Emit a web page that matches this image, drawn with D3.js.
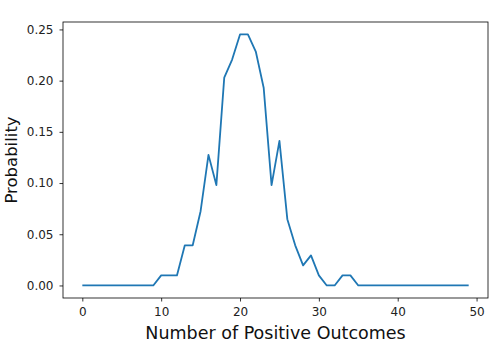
<!DOCTYPE html>
<html>
<head>
<meta charset="utf-8">
<script src="https://cdn.jsdelivr.net/npm/d3@7"></script>
<style>
  body { margin: 0; background: #fff; }
  #chart { width: 500px; height: 352px; }
  text { font-family: "DejaVu Sans", sans-serif; }
</style>
</head>
<body>
<div id="chart"></div>
<script>
// observed frequency for each outcome count 0..49
const outcomes = d3.range(0, 50);
const probs = [
    0, 0, 0, 0, 0, 0, 0, 0, 0, 0,
    0.0098, 0.0098, 0.0098, 0.0392, 0.0392, 0.0725, 0.1275, 0.098, 0.2029, 0.2206,
    0.2451, 0.2451, 0.2284, 0.1931, 0.098, 0.1412, 0.0647, 0.0392, 0.0196, 0.0294,
    0.0098, 0, 0, 0.0098, 0.0098, 0, 0, 0, 0, 0,
    0, 0, 0, 0, 0, 0, 0, 0, 0, 0
];
const xTicks = [0, 10, 20, 30, 40, 50];
const yTicks = [0, 0.05, 0.10, 0.15, 0.20, 0.25];

const margin = { top: 22, right: 12, bottom: 54, left: 63 };
const width = 500 - margin.left - margin.right;
const height = 352 - margin.top - margin.bottom;

const svg = d3.select("#chart").append("svg")
    .attr("width", 500)
    .attr("height", 352);

const g = svg.append("g")
    .attr("transform", `translate(${margin.left},${margin.top})`);

// matplotlib-ish 5% padding on both axes
const x = d3.scaleLinear().domain([-2.45, 51.45]).range([0, width]);
const y = d3.scaleLinear().domain([-0.01225, 0.25725]).range([height, 0]);

const xAxis = g.append("g")
    .attr("transform", `translate(0,${height})`)
    .call(d3.axisBottom(x).tickValues(xTicks).tickSize(3.5).tickPadding(6).tickFormat(d3.format("d")));

const yAxis = g.append("g")
    .call(d3.axisLeft(y).tickValues(yTicks).tickSize(3.5).tickPadding(6).tickFormat(d3.format(".2f")));

[xAxis, yAxis].forEach(a => {
    a.select(".domain").remove();
    a.selectAll("line").attr("stroke", "#000").attr("stroke-width", 0.8);
    a.selectAll("text").attr("font-size", "12px").attr("fill", "#222")
        .attr("font-family", "DejaVu Sans, sans-serif");
});

// frame
g.append("rect")
    .attr("width", width)
    .attr("height", height)
    .attr("fill", "none")
    .attr("stroke", "#000")
    .attr("stroke-width", 0.8);

const line = d3.line()
    .x((d, i) => x(outcomes[i]))
    .y(d => y(d));

g.append("path")
    .datum(probs)
    .attr("fill", "none")
    .attr("stroke", "#1f77b4")
    .attr("stroke-width", 1.8)
    .attr("stroke-linejoin", "round")
    .attr("d", line);

svg.append("text")
    .attr("x", margin.left + width / 2)
    .attr("y", 339)
    .attr("text-anchor", "middle")
    .attr("font-size", "17.5px")
    .attr("fill", "#111")
    .text("Number of Positive Outcomes");

svg.append("text")
    .attr("transform", `translate(16.5,${margin.top + height / 2}) rotate(-90)`)
    .attr("text-anchor", "middle")
    .attr("font-size", "16.5px")
    .attr("fill", "#111")
    .text("Probability");
</script>
</body>
</html>
